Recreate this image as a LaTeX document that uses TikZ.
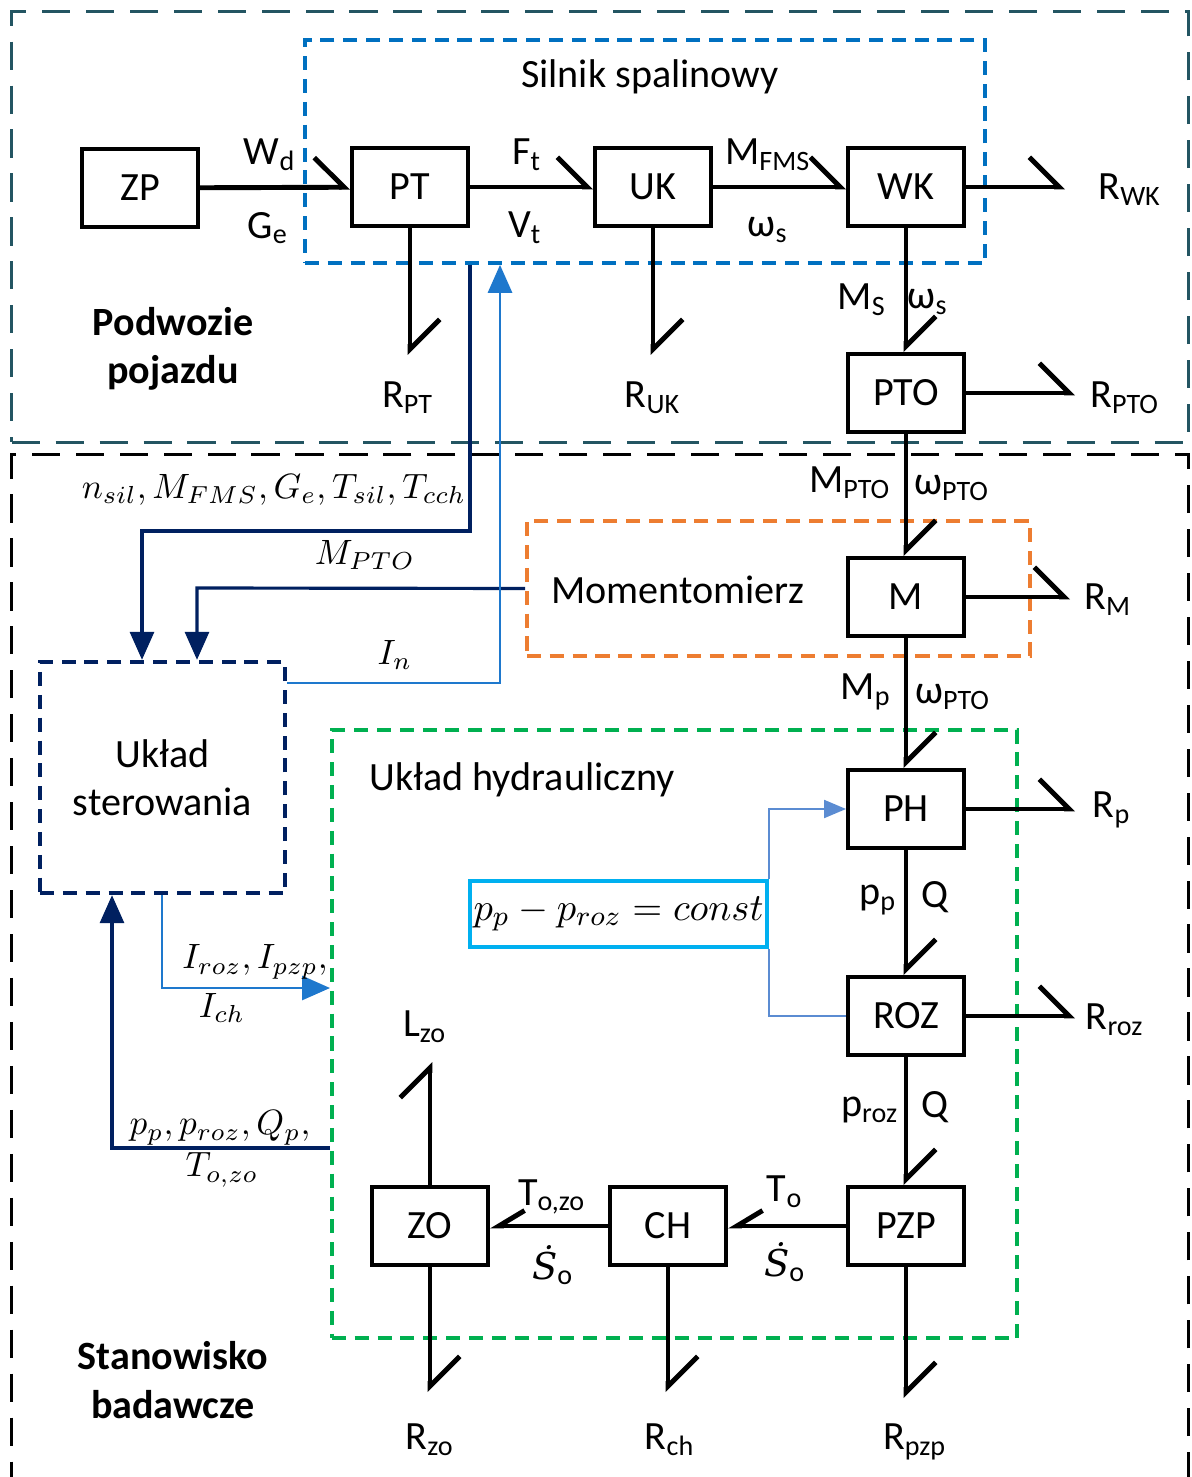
\documentclass[tikz,border=0pt]{standalone}
\usepackage{fontspec}
\setmainfont{Carlito}
\newfontfamily\dotserif{DejaVu Serif}
\usepackage{amsmath}
\usepackage{xcolor}
\usetikzlibrary{arrows.meta}

\definecolor{podwoziecol}{RGB}{35,85,98}
\definecolor{silnikcol}{RGB}{0,112,192}
\definecolor{momcol}{RGB}{237,125,49}
\definecolor{hydrcol}{RGB}{0,176,80}
\definecolor{navycol}{RGB}{0,32,96}
\definecolor{sigcol}{RGB}{30,120,205}
\definecolor{cyancol}{RGB}{0,176,240}
\definecolor{thincol}{RGB}{91,140,210}

\begin{document}
\begin{tikzpicture}[x=0.01cm, y=-0.01cm,
  every node/.style={font=\fontsize{11.4}{13.7}\selectfont},
  blk/.style={rectangle, draw, line width=1.1pt, minimum width=1.16cm, minimum height=0.78cm, inner sep=0pt},
  grp/.style={rectangle, line width=1pt, dash pattern=on 4pt off 2.5pt, inner sep=0pt},
  flow/.style={line width=1.4pt, -{Straight Barb[harpoon, angle=90:0.42cm]}},
  flowl/.style={line width=1.4pt, -{Straight Barb[harpoon, swap, angle=62:0.3cm]}},
  ctl/.style={navycol, line width=0.9pt, -{Triangle[length=0.28cm, width=0.24cm]}},
  sig/.style={sigcol, line width=0.8pt, -{Triangle[length=0.28cm, width=0.24cm]}},
  lab/.style={inner sep=1pt},
  mlab/.style={font=\fontsize{10}{12}\selectfont, inner sep=1pt},
]

\useasboundingbox (0,0) rectangle (1192,1477);

% areas
\node[grp, draw=podwoziecol, dash pattern=on 8pt off 4.5pt, line width=0.9pt, minimum width=11.76cm, minimum height=4.30cm] (podwozie) at (600,227) {};
\node[grp, draw=black, dash pattern=on 8pt off 4.5pt, line width=0.9pt, minimum width=11.76cm, minimum height=10.35cm] (stanowisko) at (600,972.5) {};
\node[grp, draw=silnikcol, minimum width=6.80cm, minimum height=2.23cm] (silnik) at (645,151.5) {};
\node[grp, draw=momcol, minimum width=5.03cm, minimum height=1.35cm] (moment) at (778.5,588.5) {};
\node[grp, draw=hydrcol, minimum width=6.85cm, minimum height=6.08cm] (hydr) at (674.5,1034) {};
\node[grp, draw=navycol, line width=1.2pt, minimum width=2.45cm, minimum height=2.31cm, align=center] (ster) at (162.5,777.5) {Układ\\sterowania};
\node[rectangle, draw=cyancol, line width=1pt, minimum width=2.97cm, minimum height=0.66cm, inner sep=1pt, font=\fontsize{11}{13}\selectfont] (rownanie) at (618.5,914) {$p_p - p_{roz} = const$};

\node[font=\fontsize{11.4}{13.7}\selectfont\bfseries, align=center] (lpodwozie) at (173,349) {Podwozie\\pojazdu};
\node[font=\fontsize{11.4}{13.7}\selectfont\bfseries, align=center] (lstanowisko) at (173,1380) {Stanowisko\\badawcze};
\node (lsilnik) at (650,77) {Silnik spalinowy};
\node (lmoment) at (678,590) {Momentomierz};
\node (lhydr) at (522,780) {Układ hydrauliczny};

% blocks
\node[blk] (ZP) at (140,188) {ZP};
\node[blk] (PT) at (410,187) {PT};
\node[blk] (UK) at (653,187) {UK};
\node[blk] (WK) at (906,187) {WK};
\node[blk] (PTO) at (906,393) {PTO};
\node[blk] (M) at (906,597) {M};
\node[blk] (PH) at (906,809) {PH};
\node[blk] (ROZ) at (906,1016) {ROZ};
\node[blk] (PZP) at (906,1226) {PZP};
\node[blk] (CH) at (668,1226) {CH};
\node[blk] (ZO) at (430,1226) {ZO};

% free ends
\coordinate (rwk) at (1065,187);
\coordinate (rpt) at (410,355);
\coordinate (ruk) at (653,355);
\coordinate (rpto) at (1075,393);
\coordinate (rm) at (1070,597);
\coordinate (rp) at (1075,809);
\coordinate (rroz) at (1075,1016);
\coordinate (lzo) at (430,1062);
\coordinate (rzo) at (430,1392);
\coordinate (rch) at (668,1392);
\coordinate (rpzp) at (906,1398);

% main chain
\draw[flow] (ZP) -- (PT);
\draw[flow] (PT) -- (UK);
\draw[flow] (UK) -- (WK);
\draw[flow] (WK) -- (PTO);
\draw[flow] (PTO) -- (M);
\draw[flow] (M) -- (PH);
\draw[flow] (PH) -- (ROZ);
\draw[flow] (ROZ) -- (PZP);
\draw[flowl] (PZP) -- (CH);
\draw[flowl] (CH) -- (ZO);

\draw[flow] (WK) -- (rwk);
\draw[flow] (PT) -- (rpt);
\draw[flow] (UK) -- (ruk);
\draw[flow] (PTO) -- (rpto);
\draw[flow] (M) -- (rm);
\draw[flow] (PH) -- (rp);
\draw[flow] (ROZ) -- (rroz);
\draw[flow] (ZO) -- (lzo);
\draw[flow] (ZO) -- (rzo);
\draw[flow] (CH) -- (rch);
\draw[flow] (PZP) -- (rpzp);

% signal lines
\coordinate (k1) at (470,531);
\coordinate (k2) at (142,531);
\coordinate (k3) at (197,588);
\coordinate (k4) at (500,683);
\coordinate (k5) at (162,988);
\coordinate (k6) at (112,1148);

\draw[ctl] (k1 |- silnik.south) -- (k1) -- (k2) -- (k2 |- ster.north);
\draw[ctl] (moment.west) -- (k3) -- (k3 |- ster.north);
\draw[sig] (k4 -| ster.east) -- (k4) -- (k4 |- silnik.south);
\draw[sig] (k5 |- ster.south) -- (k5) -- (k5 -| hydr.west);
\draw[ctl] (k6 -| hydr.west) -- (k6) -- (k6 |- ster.south);
\draw[thincol, line width=0.6pt, -{Triangle[length=0.22cm, width=0.18cm]}] (rownanie.north east) |- (PH.west);
\draw[thincol, line width=0.6pt] (rownanie.south east) |- (ROZ.west);

% labels
\node[lab] (lwd) at (270,155) {W\textsubscript{d}};
\node[lab] (lge) at (268,228) {G\textsubscript{e}};
\node[lab] (lft) at (527,155) {F\textsubscript{t}};
\node[lab] (lvt) at (525,228) {V\textsubscript{t}};
\node[lab] (lmfms) at (768,155) {M\textsubscript{FMS}};
\node[lab] (lws) at (768,230) {ω\textsubscript{s}};
\node[lab] (lrwk) at (1130,190) {R\textsubscript{WK}};
\node[lab] (lrpt) at (408,398) {R\textsubscript{PT}};
\node[lab] (lruk) at (653,398) {R\textsubscript{UK}};
\node[lab] (lms) at (862,300) {M\textsubscript{S}};
\node[lab] (lws2) at (928,302) {ω\textsubscript{s}};
\node[lab] (lrpto) at (1125,398) {R\textsubscript{PTO}};
\node[lab] (lmpto) at (850,483) {M\textsubscript{PTO}};
\node[lab] (lwpto) at (952,488) {ω\textsubscript{PTO}};
\node[lab] (lrm) at (1108,600) {R\textsubscript{M}};
\node[lab] (lmp) at (866,692) {M\textsubscript{p}};
\node[lab] (lwpto2) at (953,697) {ω\textsubscript{PTO}};
\node[lab] (lrp) at (1112,810) {R\textsubscript{p}};
\node[lab] (lpp) at (878,900) {p\textsubscript{p}};
\node[lab] (lq) at (935,897) {Q};
\node[lab] (lrroz) at (1115,1020) {R\textsubscript{roz}};
\node[lab] (lproz) at (870,1110) {p\textsubscript{roz}};
\node[lab] (lq2) at (935,1107) {Q};
\node[lab] (lto) at (785,1192) {T\textsubscript{o}};
\node[lab] (lso) at (785,1262) {{\dotserif\itshape\fontsize{10.5}{12}\selectfont Ṡ}\textsubscript{o}};
\node[lab] (ltozo) at (552,1197) {T\textsubscript{o,zo}};
\node[lab] (lso2) at (553,1265) {{\dotserif\itshape\fontsize{10.5}{12}\selectfont Ṡ}\textsubscript{o}};
\node[lab] (llzo) at (425,1027) {L\textsubscript{zo}};
\node[lab] (lrzo) at (430,1440) {R\textsubscript{zo}};
\node[lab] (lrch) at (670,1440) {R\textsubscript{ch}};
\node[lab] (lrpzp) at (915,1442) {R\textsubscript{pzp}};

\node[mlab, font=\fontsize{9.6}{11.5}\selectfont] (lsil) at (274,490) {$n_{sil}, M_{FMS},G_e,T_{sil},T_{cch}$};
\node[mlab] (lmptoi) at (365,555) {$M_{PTO}$};
\node[mlab] (lin) at (395,655) {$I_n$};
\node[mlab] (liroz) at (255,962) {$I_{roz},I_{pzp},$};
\node[mlab] (lich) at (222,1008) {$I_{ch}$};
\node[mlab] (lpq) at (220,1128) {$p_p,p_{roz},Q_p,$};
\node[mlab] (ltozoi) at (222,1170) {$T_{o,zo}$};

\end{tikzpicture}
\end{document}
